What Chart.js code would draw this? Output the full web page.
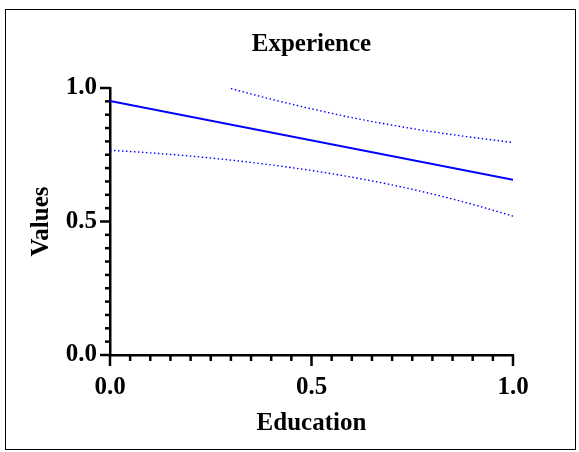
<!DOCTYPE html>
<html>
<head>
<meta charset="utf-8">
<script src="https://cdn.jsdelivr.net/npm/chart.js@4/dist/chart.umd.min.js"></script>
<style>
  html, body { margin: 0; padding: 0; background: #fff; }
  #wrap { width: 579px; height: 452px; position: relative; }
</style>
</head>
<body>
<div id="wrap"><canvas id="regChart"></canvas></div>
<script>
// values
const fitX = [0, 1];
const fitY = [0.951, 0.656];

const lowerX = [0, 0.1, 0.2, 0.3, 0.4, 0.5, 0.6, 0.7, 0.8, 0.9, 1.0];
const lowerY = [0.767, 0.757, 0.745, 0.730, 0.712, 0.691, 0.666, 0.637, 0.603, 0.564, 0.520];

const upperX = [0.3, 0.4, 0.5, 0.6, 0.7, 0.8, 0.9, 1.0];
const upperY = [0.998, 0.958, 0.922, 0.889, 0.861, 0.836, 0.815, 0.796];

const xTitle = 'Education';
const yTitle = 'Values';
const chartTitle = 'Experience';
const majorTicks = [0, 0.5, 1];

const serif = "'Liberation Serif', 'Times New Roman', serif";

function toPoints(xs, ys) {
    return xs.map((x, i) => ({ x: x, y: ys[i] }));
}

function isMajor(v) {
    return majorTicks.some(m => Math.abs(m - v) < 1e-9);
}

// frame round the figure + major/minor tick marks
const framePlugin = {
    id: 'framePlugin',
    afterDraw(chart) {
        const ctx = chart.ctx;
        const xs = chart.scales.x;
        const ys = chart.scales.y;
        ctx.save();
        ctx.strokeStyle = '#000';
        ctx.lineWidth = 1;
        ctx.strokeRect(5.5, 9.5, 570, 440);

        ctx.lineWidth = 2.5;
        xs.ticks.forEach(t => {
            const px = xs.getPixelForValue(t.value);
            const len = isMajor(t.value) ? 11 : 6;
            ctx.beginPath();
            ctx.moveTo(px, xs.top);
            ctx.lineTo(px, xs.top + len);
            ctx.stroke();
        });
        ys.ticks.forEach(t => {
            const py = ys.getPixelForValue(t.value);
            const len = isMajor(t.value) ? 10 : 5;
            ctx.beginPath();
            ctx.moveTo(ys.right, py);
            ctx.lineTo(ys.right - len, py);
            ctx.stroke();
        });
        ctx.restore();
    }
};

const ctx = document.getElementById('regChart').getContext('2d');

const regChart = new Chart(ctx, {
    type: 'scatter',
    data: {
        datasets: [
            {
                data: toPoints(fitX, fitY),
                showLine: true,
                borderColor: '#0000ff',
                borderWidth: 2,
                pointRadius: 0
            },
            {
                data: toPoints(lowerX, lowerY),
                showLine: true,
                borderColor: '#0000ff',
                borderWidth: 1.4,
                borderDash: [1.5, 2.5],
                cubicInterpolationMode: 'monotone',
                pointRadius: 0
            },
            {
                data: toPoints(upperX, upperY),
                showLine: true,
                borderColor: '#0000ff',
                borderWidth: 1.4,
                borderDash: [1.5, 2.5],
                cubicInterpolationMode: 'monotone',
                pointRadius: 0
            }
        ]
    },
    options: {
        responsive: true,
        maintainAspectRatio: false,
        animation: false,
        layout: { padding: { top: 0, left: 0, right: 66, bottom: 0 } },
        plugins: {
            legend: { display: false },
            tooltip: { enabled: false },
            title: {
                display: true,
                text: chartTitle,
                fullSize: false,
                color: '#000',
                font: { family: serif, size: 25, weight: 'bold' },
                padding: { top: 30, bottom: 28 }
            }
        },
        scales: {
            x: {
                type: 'linear',
                min: 0,
                max: 1,
                afterFit: s => { s.height = 97; },
                grid: { display: false },
                border: { display: true, color: '#000', width: 2.5 },
                ticks: {
                    stepSize: 0.05,
                    autoSkip: false,
                    maxRotation: 0,
                    padding: 10,
                    color: '#000',
                    font: { family: serif, size: 25, weight: 'bold' },
                    callback: v => isMajor(v) ? v.toFixed(1) : ''
                },
                title: {
                    display: true,
                    text: xTitle,
                    color: '#000',
                    font: { family: serif, size: 25, weight: 'bold' },
                    padding: { top: 0, bottom: 13 }
                }
            },
            y: {
                type: 'linear',
                min: 0,
                max: 1,
                afterFit: s => { s.width = 110; },
                grid: { display: false },
                border: { display: true, color: '#000', width: 2.5 },
                ticks: {
                    stepSize: 0.05,
                    autoSkip: false,
                    padding: 5,
                    color: '#000',
                    font: { family: serif, size: 25, weight: 'bold' },
                    callback: v => isMajor(v) ? v.toFixed(1) : ''
                },
                title: {
                    display: true,
                    text: yTitle,
                    color: '#000',
                    font: { family: serif, size: 25, weight: 'bold' },
                    padding: { top: 27, bottom: 0 }
                }
            }
        }
    },
    plugins: [framePlugin]
});
</script>
</body>
</html>
